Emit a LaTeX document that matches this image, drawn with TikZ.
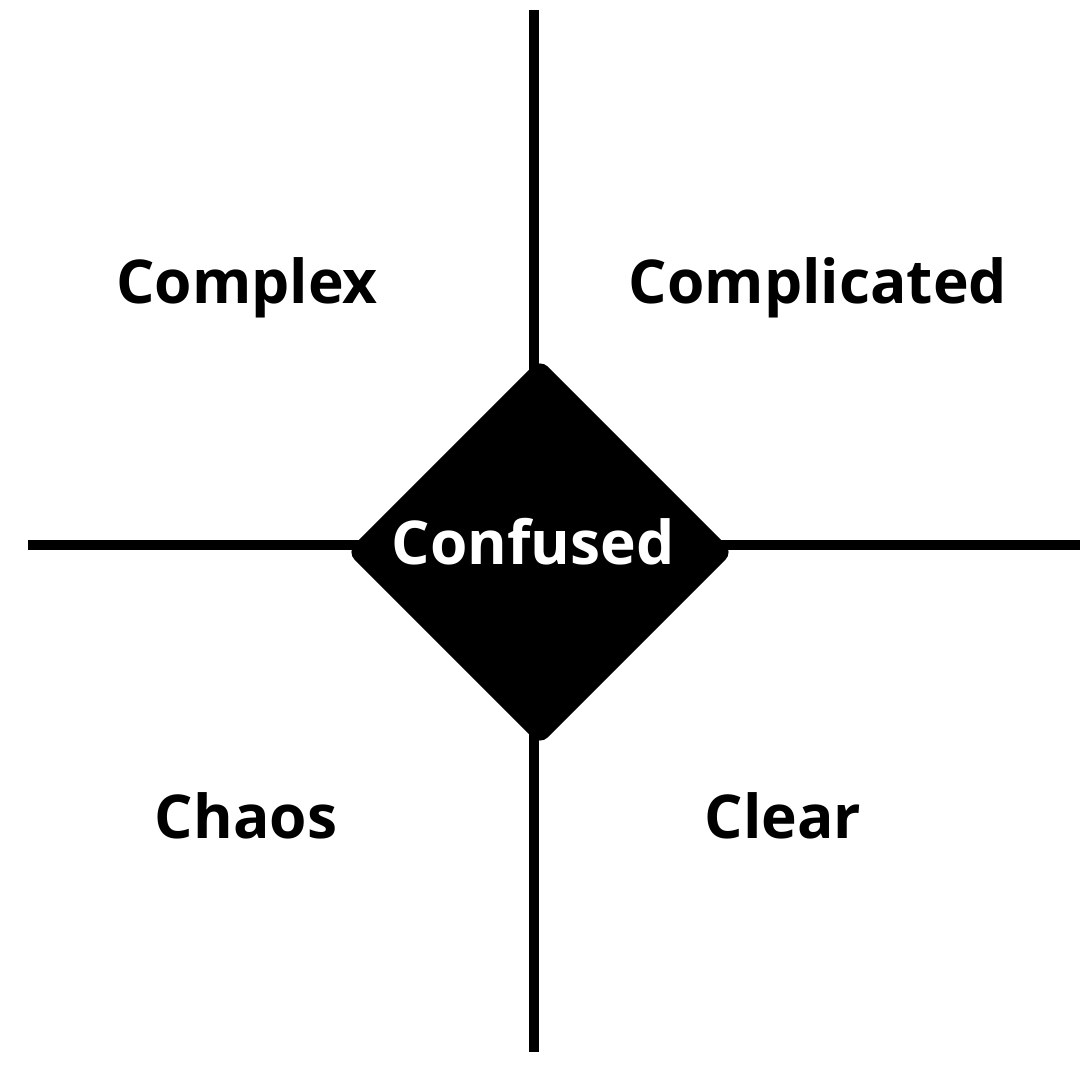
\documentclass[tikz,border=0pt]{standalone}
\usepackage{fontspec}
\setmainfont{Open Sans}
\usetikzlibrary{shapes.geometric}

\begin{document}
\begin{tikzpicture}[
      axis/.style={line width=0.1cm, color=black},
      area/.style={font=\fontsize{17.2pt}{20pt}\selectfont\bfseries, text=black},
      core/.style={diamond, fill=black, draw=black, rounded corners=3pt,
                   minimum width=3.85cm, minimum height=3.85cm, inner sep=0pt}
    ]
    \useasboundingbox (0,0) rectangle (10.8,10.8);

    % Axis ends
    \coordinate (top)    at (5.34,10.70);
    \coordinate (bottom) at (5.34,0.28);
    \coordinate (left)   at (0.28,5.35);
    \coordinate (right)  at (10.80,5.35);

    \draw[axis] (top) -- (bottom);
    \draw[axis] (left) -- (right);

    % Centre
    \node[core] (confused) at (5.40,5.28) {};
    \node[area, text=white] (confusedlabel) at (5.33,5.38) {Confused};

    % Domains
    \node[area] (complex)     at (2.47,7.92) {Complex};
    \node[area] (complicated) at (8.18,7.92) {Complicated};
    \node[area] (chaos)       at (2.46,2.64) {Chaos};
    \node[area] (clear)       at (7.83,2.64) {Clear};

  \end{tikzpicture}
\end{document}
